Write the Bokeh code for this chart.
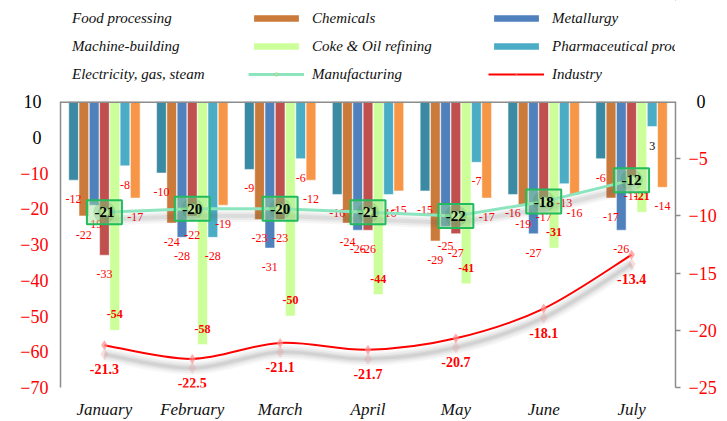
import numpy as np
from bokeh.plotting import figure
from bokeh.layouts import column
from bokeh.models import (FactorRange, Range1d, LinearAxis, FixedTicker, Span,
                          Legend, LegendItem, ColumnDataSource)
from bokeh.transform import dodge
from bokeh.core.properties import value
from bokeh.embed import file_html
from bokeh.resources import INLINE

months = ["January", "February", "March", "April", "May", "June", "July"]
food = [-12, -10, -9, -16, -15, -16, -6]
chemicals = [-22, -24, -23, -24, -29, -19, -17]
metallurgy = [-19, -28, -31, -26, -25, -27, -26]
machine = [-33, -22, -23, -26, -27, -17, -11]
coke = [-54, -58, -50, -44, -41, -31, -21]
pharma = [-8, -28, -6, -16, -7, -13, 3]
electricity = [-17, -19, -12, -15, -17, -16, -14]
manufacturing = [-21, -20, -20, -21, -22, -18, -12]
industry = [-21.3, -22.5, -21.1, -21.7, -20.7, -18.1, -13.4]
left_ticks_neg = [-10, -20, -30, -40, -50, -60, -70]
left_ticks_pos = [10, 0]
right_ticks_neg = [-5, -10, -15, -20, -25]
right_ticks_pos = [0]

SERIF = "Liberation Serif"

p = figure(width=727, height=331, x_range=FactorRange(*months), y_range=Range1d(-70, 10),
           output_backend="svg", toolbar_location=None,
           min_border_left=60, min_border_right=52, min_border_top=11, min_border_bottom=31,
           outline_line_color=None, background_fill_color="white", border_fill_color="white")
p.extra_y_ranges = {"right": Range1d(-25, 0)}
p.xgrid.visible = False
p.ygrid.visible = False

# bottom axis: labels only
xa = p.below[0]
xa.axis_line_color = None
xa.major_tick_line_color = None
xa.major_tick_out = 0
xa.major_label_text_font = SERIF
xa.major_label_text_font_style = "italic"
xa.major_label_text_font_size = "17px"
xa.major_label_text_color = "#111111"
xa.major_label_standoff = 12


def style_y(ax, color, standoff):
    ax.major_tick_line_color = None
    ax.major_tick_out = 0
    ax.major_tick_in = 0
    ax.minor_tick_line_color = None
    ax.minor_tick_out = 0
    ax.major_label_text_font = SERIF
    ax.major_label_text_font_size = "18px"
    ax.major_label_text_color = color
    ax.major_label_standoff = standoff


# left axis (negative labels red)
ya = p.left[0]
ya.ticker = FixedTicker(ticks=left_ticks_neg)
style_y(ya, "#ff0000", 12)
ya.axis_line_color = "#8c8c8c"
ya.axis_line_width = 1.5

# left axis (10 and 0 in black), drawn aligned with the first
ya2 = LinearAxis(ticker=FixedTicker(ticks=left_ticks_pos))
style_y(ya2, "#000000", -24)
ya2.axis_line_color = None
p.add_layout(ya2, "left")

# right axis
ra = LinearAxis(y_range_name="right", ticker=FixedTicker(ticks=right_ticks_neg))
style_y(ra, "#ff0000", 8)
ra.axis_line_color = "#8c8c8c"
ra.axis_line_width = 1.5
ra.major_tick_line_color = "#8c8c8c"
ra.major_tick_line_width = 1.5
ra.major_tick_out = 5
p.add_layout(ra, "right")

ra2 = LinearAxis(y_range_name="right", ticker=FixedTicker(ticks=right_ticks_pos))
style_y(ra2, "#000000", -23)
ra2.axis_line_color = None
p.add_layout(ra2, "right")

# top line where the category axis crosses
p.add_layout(Span(location=p.y_range.end, dimension="width", line_color="#8c8c8c", line_width=3))

series = [
    ("Food processing", food, "#3B8AA3"),
    ("Chemicals", chemicals, "#CA7A3A"),
    ("Metallurgy", metallurgy, "#4F81BD"),
    ("Machine-building", machine, "#C0504D"),
    ("Coke & Oil refining", coke, "#CCFF99"),
    ("Pharmaceutical products", pharma, "#4BACC6"),
    ("Electricity, gas, steam", electricity, "#F79646"),
]
n = len(series)
step = 0.117
bar_w = 0.11
label_specs = []
for i, (name, vals, col) in enumerate(series):
    off = (i - (n - 1) / 2) * step
    src = ColumnDataSource(dict(month=months, val=vals,
                                lab=[str(v) for v in vals],
                                tcol=["#ff0000" if v < 0 else "#000000" for v in vals]))
    p.vbar(x=dodge("month", off, range=p.x_range), top=p.y_range.end, bottom="val",
           width=bar_w, source=src, fill_color=col, line_color="white", line_width=0.5)
    label_specs.append((src, off, name == "Coke & Oil refining"))

for src, off, inside in label_specs:
    p.text(x=dodge("month", off, range=p.x_range), y="val", text="lab", source=src,
           text_color="tcol", text_align="center", text_baseline="middle",
           y_offset=-16 if inside else 19, text_font=value(SERIF),
           text_font_size="12px", text_font_style="bold" if inside else "normal")

# Manufacturing line
M_LINE = dict(line_color="#8DE5C0", line_width=3)
M_MARK = dict(marker="circle", size=9, fill_color="#CDEFA0", line_color="#8DD88D",
              line_width=1, fill_alpha=0.8)
msrc = ColumnDataSource(dict(month=months, val=manufacturing, lab=[str(v) for v in manufacturing]))
for w, a in [(12, 0.05), (8, 0.07), (4, 0.09)]:
    p.line(x="month", y=dodge("val", -2.0), source=msrc, line_color="#555555",
           line_width=w, line_alpha=a)
p.line(x="month", y="val", source=msrc, **M_LINE)
p.rect(x="month", y="val", width=35, height=24, width_units="screen", height_units="screen",
       source=msrc, fill_color="#9FE39A", fill_alpha=0.45, line_color="#22BB5E", line_width=2)
p.scatter(x="month", y="val", source=msrc, size=22, marker="circle",
          fill_color="#2E8B2E", fill_alpha=0.18, line_color=None)
p.scatter(x="month", y="val", source=msrc, size=13, marker="circle",
          fill_color="#4CAF50", fill_alpha=0.25, line_color=None)
p.scatter(x="month", y="val", source=msrc, **M_MARK)
p.text(x="month", y="val", text="lab", source=msrc, text_color="black", text_align="center",
       text_baseline="middle", text_font=value(SERIF), text_font_size="15px",
       text_font_style="bold")

# Industry smooth line (bezier segments from data points, Catmull-Rom style)
I_LINE = dict(line_color="#FF0000", line_width=2)
I_MARK = dict(marker="diamond", size=10, fill_color="#FF8C8C", fill_alpha=0.7, line_color=None)
xs = np.array([p.x_range.factors.index(m) + 0.5 for m in months], dtype=float)
ys = np.array(industry, dtype=float)
k = len(xs)
x0, y0, x1, y1, cx0, cy0, cx1, cy1 = ([] for _ in range(8))
for i in range(k - 1):
    pm = max(i - 1, 0)
    pn = min(i + 2, k - 1)
    x0.append(xs[i]); y0.append(ys[i]); x1.append(xs[i + 1]); y1.append(ys[i + 1])
    cx0.append(xs[i] + (xs[i + 1] - xs[pm]) / 6); cy0.append(ys[i] + (ys[i + 1] - ys[pm]) / 6)
    cx1.append(xs[i + 1] - (xs[pn] - xs[i]) / 6); cy1.append(ys[i + 1] - (ys[pn] - ys[i]) / 6)
bsrc = ColumnDataSource(dict(x0=x0, y0=y0, x1=x1, y1=y1, cx0=cx0, cy0=cy0, cx1=cx1, cy1=cy1))
sh = -0.8
for w, a in [(14, 0.05), (10, 0.07), (6, 0.09), (3, 0.1)]:
    p.bezier(x0="x0", y0=dodge("y0", sh), x1="x1", y1=dodge("y1", sh),
             cx0="cx0", cy0=dodge("cy0", sh), cx1="cx1", cy1=dodge("cy1", sh),
             source=bsrc, y_range_name="right", line_color="#666666", line_width=w, line_alpha=a)
p.bezier(x0="x0", y0="y0", x1="x1", y1="y1", cx0="cx0", cy0="cy0", cx1="cx1", cy1="cy1",
         source=bsrc, y_range_name="right", **I_LINE)
isrc = ColumnDataSource(dict(month=months, val=industry, lab=[f"{v:.1f}" for v in industry]))
p.scatter(x="month", y=dodge("val", sh), source=isrc, y_range_name="right", marker="diamond",
          size=12, fill_color="#e8a0a0", fill_alpha=0.35, line_color=None)
p.scatter(x="month", y="val", source=isrc, y_range_name="right", **I_MARK)
p.text(x="month", y="val", text="lab", source=isrc, y_range_name="right", text_color="#FF0000",
       text_align="center", text_baseline="middle", y_offset=24, text_font=value(SERIF),
       text_font_size="14px", text_font_style="bold")

# ---- legend strip (separate figure above the chart) ----
lg = figure(width=727, height=90, x_range=Range1d(0, 1), y_range=Range1d(0, 1),
            x_axis_location=None, y_axis_location=None,
            output_backend="svg", toolbar_location=None, min_border=0,
            outline_line_color=None, background_fill_color="white", border_fill_color="white")
lg.grid.visible = False
legend_items = {}
for name, vals, col in series:
    legend_items[name] = [lg.vbar(x=[5], top=[5], bottom=[4], width=0.1,
                                  fill_color=col, line_color=None)]
legend_items["Manufacturing"] = [lg.line(x=[5, 6], y=[5, 5], **M_LINE),
                                 lg.scatter(x=[5], y=[5], **M_MARK)]
legend_items["Industry"] = [lg.line(x=[5, 6], y=[5, 5], **I_LINE),
                            lg.scatter(x=[5], y=[5], **I_MARK)]
order = ["Food processing", "Chemicals", "Metallurgy",
         "Machine-building", "Coke & Oil refining", "Pharmaceutical products",
         "Electricity, gas, steam", "Manufacturing", "Industry"]
legend = Legend(items=[LegendItem(label=nm, renderers=legend_items[nm]) for nm in order],
                orientation="horizontal", ncols=3, location=(-52, 7),
                glyph_width=56, glyph_height=8, label_standoff=8, label_width=166,
                label_height=18, spacing=10, padding=0, margin=0,
                border_line_color=None, background_fill_alpha=0,
                label_text_font=SERIF, label_text_font_style="italic",
                label_text_font_size="15px", label_text_color="#111111")
lg.add_layout(legend, "center")

layout = column(lg, p, spacing=0)
open("out.html", "w").write(file_html(layout, INLINE))
